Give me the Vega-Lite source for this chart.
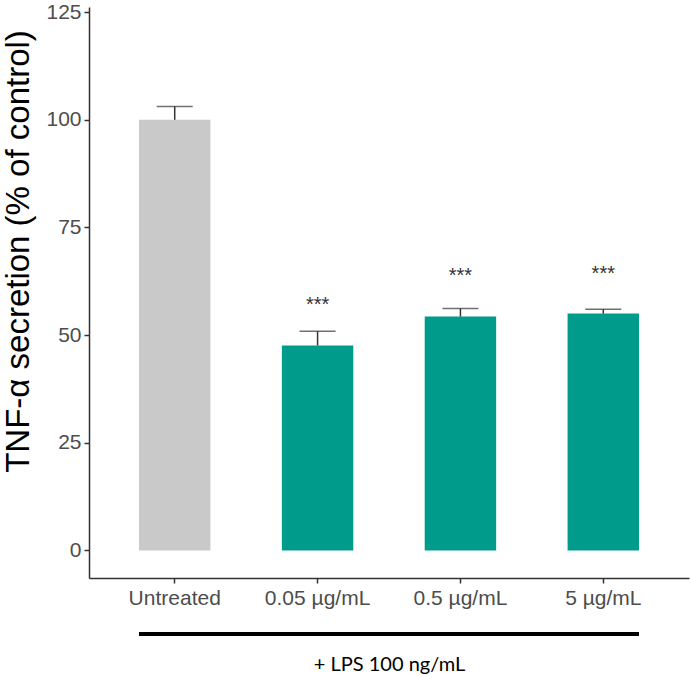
{
  "$schema": "https://vega.github.io/schema/vega-lite/v6.json",
  "width": 600,
  "height": 571,
  "autosize": "none",
  "padding": {"left": 89, "top": 7, "right": 2, "bottom": 99},
  "background": "white",
  "config": {
    "view": {"stroke": null},
    "font": "Liberation Sans"
  },
  "data": {
    "values": [
      {"group": "Untreated", "treat": "Untreated", "value": 100, "upper": 103.1, "label": "", "label_y": 0},
      {"group": "0.05 µg/mL", "treat": "LPS", "value": 47.6, "upper": 50.9, "label": "***", "label_y": 58.2},
      {"group": "0.5 µg/mL", "treat": "LPS", "value": 54.3, "upper": 56.2, "label": "***", "label_y": 64.8},
      {"group": "5 µg/mL", "treat": "LPS", "value": 55.0, "upper": 56.0, "label": "***", "label_y": 65.4}
    ]
  },
  "encoding": {
    "x": {
      "field": "group",
      "type": "nominal",
      "sort": null,
      "scale": {"paddingInner": 0.5, "paddingOuter": 0.35},
      "axis": {
        "labelAngle": 0,
        "labelFontSize": 21,
        "labelColor": "#4D4D4D",
        "labelPadding": 4,
        "tickSize": 5,
        "tickColor": "#333333",
        "tickWidth": 1.5,
        "domainColor": "#333333",
        "domainWidth": 1.5,
        "grid": false,
        "title": "+ LPS 100 ng/mL",
        "titleFont": "Lato",
        "titleFontSize": 20,
        "titleFontWeight": "normal",
        "titleColor": "#000000",
        "titleX": 300,
        "titleY": 86,
        "titleAlign": "center",
        "titleBaseline": "middle"
      }
    }
  },
  "layer": [
    {
      "mark": {"type": "bar"},
      "encoding": {
        "y": {
          "field": "value",
          "type": "quantitative",
          "scale": {"domain": [-6.4, 126.2], "nice": false, "zero": false},
          "axis": {
            "values": [0, 25, 50, 75, 100, 125],
            "labelFontSize": 21,
            "labelColor": "#4D4D4D",
            "labelPadding": 3,
            "tickSize": 5,
            "tickColor": "#333333",
            "tickWidth": 1.5,
            "domainColor": "#333333",
            "domainWidth": 1.5,
            "grid": false,
            "title": "TNF-α secretion (% of control)",
            "titleFontSize": 33,
            "titleFontWeight": "normal",
            "titleColor": "#000000",
            "titleX": -71,
            "titleY": 244,
            "titleAlign": "center",
            "titleBaseline": "middle"
          }
        },
        "color": {
          "field": "treat",
          "type": "nominal",
          "scale": {"domain": ["Untreated", "LPS"], "range": ["#C9C9C9", "#009B8A"]},
          "legend": null
        }
      }
    },
    {
      "mark": {"type": "rule", "color": "#333333", "strokeWidth": 1.5},
      "encoding": {
        "y": {"field": "value", "type": "quantitative"},
        "y2": {"field": "upper"}
      }
    },
    {
      "mark": {"type": "tick", "color": "#333333", "thickness": 1.5, "size": 36, "orient": "horizontal"},
      "encoding": {
        "y": {"field": "upper", "type": "quantitative"}
      }
    },
    {
      "transform": [{"filter": "datum.label != ''"}],
      "mark": {"type": "text", "fontSize": 20, "color": "#333333", "baseline": "middle", "dy": 5},
      "encoding": {
        "y": {"field": "label_y", "type": "quantitative"},
        "text": {"field": "label"}
      }
    },
    {
      "data": {"values": [{}]},
      "mark": {"type": "rule", "color": "#000000", "strokeWidth": 4, "clip": false},
      "encoding": {
        "x": {"datum": "Untreated", "bandPosition": 0},
        "x2": {"datum": "5 µg/mL", "bandPosition": 1},
        "y": {"datum": -19.4}
      }
    }
  ]
}
